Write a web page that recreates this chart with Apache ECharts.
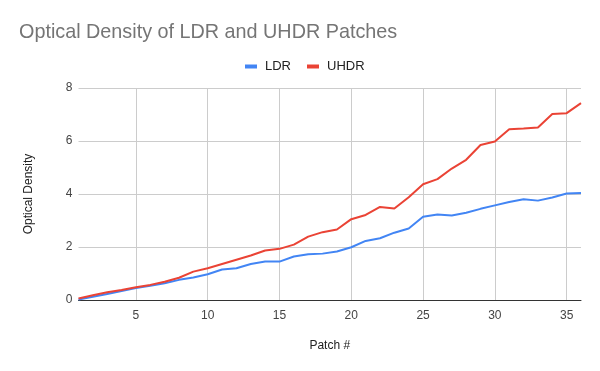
<!DOCTYPE html>
<html>
<head>
<meta charset="utf-8">
<script src="https://cdn.jsdelivr.net/npm/echarts@6/dist/echarts.min.js"></script>
<style>html,body{margin:0;padding:0;background:#fff}#c{width:600px;height:371px}</style>
</head>
<body>
<div id="c"></div>
<script>
const patches = Array.from({length: 36}, (_, i) => String(i + 1));
const ldr = [0.02,0.12,0.23,0.34,0.45,0.54,0.63,0.76,0.85,0.97,1.15,1.2,1.36,1.45,1.45,1.64,1.73,1.75,1.83,1.99,2.23,2.33,2.54,2.70,3.14,3.23,3.19,3.29,3.44,3.57,3.70,3.80,3.75,3.87,4.02,4.04];
const uhdr = [0.06,0.18,0.29,0.38,0.48,0.57,0.69,0.84,1.07,1.2,1.36,1.52,1.68,1.87,1.93,2.09,2.39,2.56,2.66,3.05,3.21,3.51,3.45,3.88,4.37,4.56,4.96,5.29,5.85,5.98,6.44,6.47,6.51,7.02,7.05,7.43];
const yTicks = [0, 2, 4, 6, 8];

const chart = echarts.init(document.getElementById('c'), null, {renderer: 'canvas'});
const font = '"Liberation Sans", Arial, sans-serif';
chart.setOption({
  animation: false,
  title: {
    text: 'Optical Density of LDR and UHDR Patches',
    left: 14, top: 18,
    textStyle: {fontFamily: font, fontSize: 19.8, fontWeight: 'normal', color: '#757575'}
  },
  legend: {
    top: 55, left: 240,
    itemWidth: 12, itemHeight: 4, itemGap: 16,
    icon: 'rect',
    textStyle: {fontFamily: font, fontSize: 13, color: '#222', padding: [0, 0, 0, 3]},
    data: ['LDR', 'UHDR']
  },
  grid: {left: 78.5, right: 19, top: 88, bottom: 71},
  xAxis: {
    type: 'category',
    data: patches,
    boundaryGap: false,
    name: 'Patch #',
    nameLocation: 'middle',
    nameGap: 40,
    nameTextStyle: {fontFamily: font, fontSize: 12, color: '#222'},
    axisLine: {lineStyle: {color: '#333', width: 1}},
    axisTick: {show: false},
    axisLabel: {
      fontFamily: font, fontSize: 12, color: '#444', margin: 10,
      interval: (i, v) => Number(v) % 5 === 0
    },
    splitLine: {
      show: true,
      interval: (i, v) => Number(v) % 5 === 0,
      lineStyle: {color: '#cccccc', width: 1}
    }
  },
  yAxis: {
    type: 'value',
    min: yTicks[0], max: yTicks[yTicks.length - 1], interval: 2,
    name: 'Optical Density',
    nameLocation: 'middle',
    nameGap: 44,
    nameTextStyle: {fontFamily: font, fontSize: 12, color: '#222'},
    axisLine: {show: false},
    axisTick: {show: false},
    axisLabel: {fontFamily: font, fontSize: 12, color: '#444', margin: 6},
    splitLine: {lineStyle: {color: '#cccccc', width: 1}}
  },
  series: [
    {name: 'LDR', type: 'line', data: ldr, showSymbol: false, symbol: 'none',
     lineStyle: {color: '#4285F4', width: 2}, itemStyle: {color: '#4285F4'}},
    {name: 'UHDR', type: 'line', data: uhdr, showSymbol: false, symbol: 'none',
     lineStyle: {color: '#EA4335', width: 2}, itemStyle: {color: '#EA4335'}}
  ]
});
</script>
</body>
</html>
